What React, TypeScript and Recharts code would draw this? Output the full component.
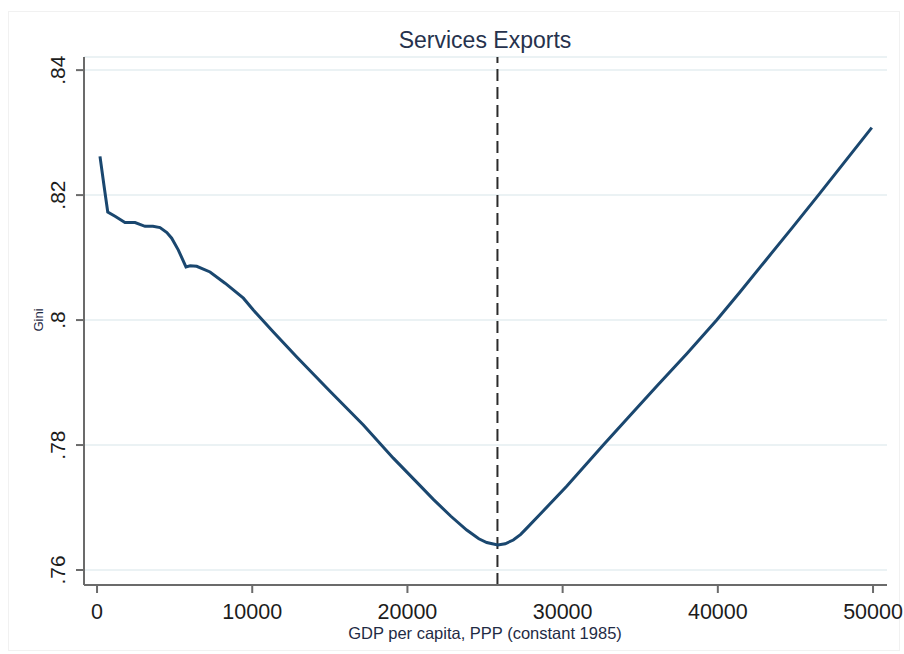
import React from 'react';
import {
  LineChart, Line, XAxis, YAxis, CartesianGrid, ReferenceLine
} from 'recharts';

// GDP per capita (PPP, constant 1985) at which the smoothed Gini is evaluated
const gdp = [
  190, 450, 690, 1160, 1800, 2450, 3090, 3600, 4060, 4500, 4810, 5240, 5730, 6000,
  6420, 7280, 8250, 9430, 10070, 11360, 12870, 15010, 17160, 19090, 20500, 21670,
  22800, 23820, 24600, 25110, 25820, 26300, 26820, 27300, 27690, 28500, 30260,
  32620, 34300, 36060, 38000, 39930, 41430, 43000, 44800, 46480, 48200, 49920,
];

const gini = [
  0.8262, 0.8215, 0.8173, 0.8166, 0.8156, 0.8156, 0.815, 0.815, 0.8148, 0.814, 0.8131,
  0.8112, 0.8085, 0.8087, 0.8086, 0.8077, 0.8059, 0.8035, 0.8016, 0.7981, 0.7941,
  0.7886, 0.7832, 0.7779, 0.7743, 0.7713, 0.7686, 0.7664, 0.765, 0.7644, 0.764,
  0.7642, 0.7648, 0.7657, 0.7667, 0.7688, 0.7734, 0.78, 0.7846, 0.7894, 0.7946, 0.8,
  0.8045, 0.8093, 0.8148, 0.82, 0.8254, 0.8308,
];

const xTicks = [0, 10000, 20000, 30000, 40000, 50000];
const yTicks = [0.76, 0.78, 0.8, 0.82, 0.84];
const turningPoint = 25800;

const data = gdp.map((g, i) => ({ gdp: g, gini: gini[i] }));

const FONT = '"Liberation Sans", Arial, sans-serif';
const AXIS = '#6b6b6b';

const fmtY = (v: number) => String(+v.toFixed(2)).replace(/^0/, '');

const XTick = (props: any) => {
  const { x, y, payload } = props;
  return (
    <text x={x} y={y} dy={24} textAnchor="middle" fontSize={21.5} fill="#1c1c1c" fontFamily={FONT}>
      {payload.value}
    </text>
  );
};

const YTick = (props: any) => {
  const { x, y, payload } = props;
  return (
    <text
      x={x}
      y={y}
      dy={-9}
      textAnchor="middle"
      transform={`rotate(-90, ${x}, ${y})`}
      fontSize={21}
      fill="#1c1c1c"
      fontFamily={FONT}
    >
      {fmtY(payload.value)}
    </text>
  );
};

export default function App() {
  return (
    <div style={{ position: 'absolute', left: 0, top: 0, width: 904, height: 654, background: '#fff' }}>
      <div
        style={{
          position: 'absolute', left: 8, top: 11, width: 892, height: 640,
          border: '1px solid #f1f1f1', boxSizing: 'border-box',
        }}
      />
      <LineChart
        width={904}
        height={654}
        data={data}
        margin={{ top: 57, right: 17, bottom: 9, left: 24 }}
        style={{ position: 'absolute', left: 0, top: 0 }}
      >
        <CartesianGrid vertical={false} stroke="#e5eef1" strokeWidth={1.5} />
        <XAxis
          dataKey="gdp"
          type="number"
          domain={[-840, 50900]}
          ticks={xTicks}
          allowDataOverflow
          height={60}
          tickSize={8}
          tickMargin={2}
          axisLine={{ stroke: AXIS, strokeWidth: 2 }}
          tickLine={{ stroke: AXIS, strokeWidth: 2 }}
          tick={<XTick />}
        />
        <YAxis
          type="number"
          domain={[0.7576, 0.8421]}
          ticks={yTicks}
          allowDataOverflow
          width={60}
          tickSize={8}
          tickMargin={2}
          axisLine={{ stroke: AXIS, strokeWidth: 2 }}
          tickLine={{ stroke: AXIS, strokeWidth: 2 }}
          tick={<YTick />}
        />
        <ReferenceLine x={turningPoint} stroke="#2b2b2b" strokeWidth={2} strokeDasharray="12 6" />
        <Line
          type="linear"
          dataKey="gini"
          stroke="#1a476f"
          strokeWidth={3}
          dot={false}
          isAnimationActive={false}
        />
      </LineChart>
      <svg
        width={904}
        height={654}
        style={{ position: 'absolute', left: 0, top: 0, pointerEvents: 'none' }}
      >
        <text x={485} y={48} textAnchor="middle" fontSize={23} fill="#26324d" fontFamily={FONT}>
          Services Exports
        </text>
        <text x={485} y={639} textAnchor="middle" fontSize={16.5} fill="#1f2b45" fontFamily={FONT}>
          GDP per capita, PPP (constant 1985)
        </text>
        <text
          x={43}
          y={320}
          textAnchor="middle"
          transform="rotate(-90, 43, 320)"
          fontSize={13}
          fill="#1f2b45"
          fontFamily={FONT}
        >
          Gini
        </text>
      </svg>
    </div>
  );
}
